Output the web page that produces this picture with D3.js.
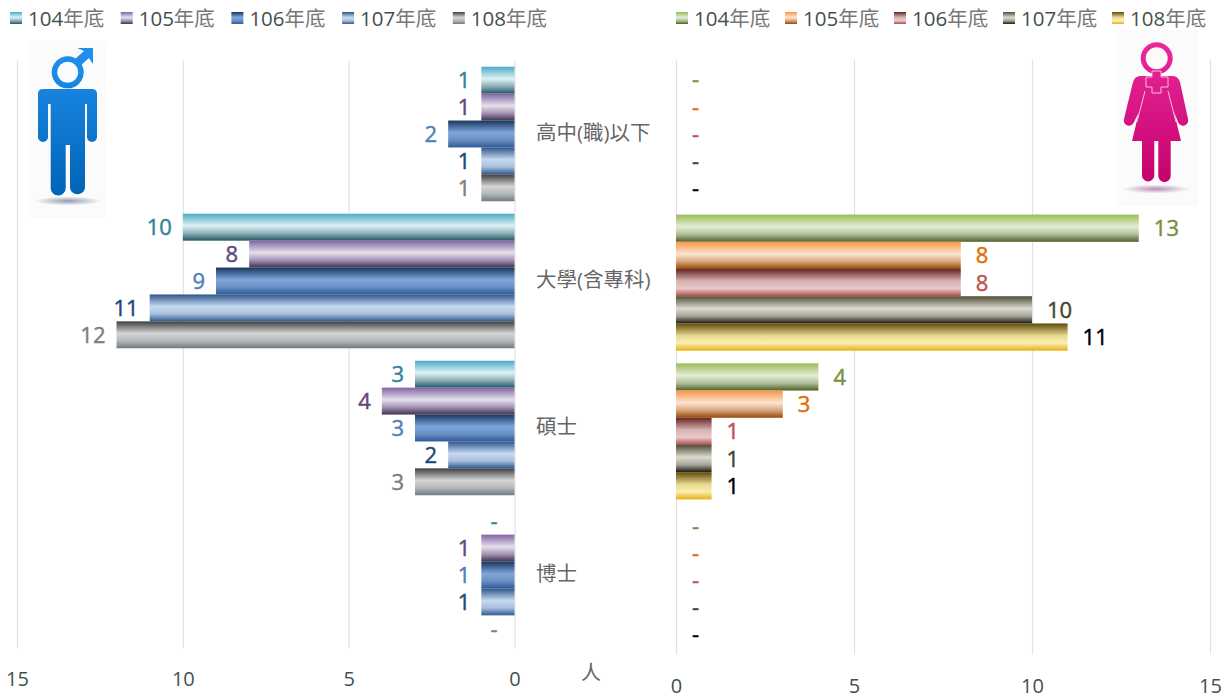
<!DOCTYPE html>
<html>
<head>
<meta charset="utf-8">
<script src="https://cdn.jsdelivr.net/npm/d3@7"></script>
<style>
    html, body { margin: 0; padding: 0; background: #fff; overflow: hidden; }
    text { font-family: "Open Sans", "Noto Sans CJK TC", sans-serif; }
    .cjk { font-family: "Open Sans", "Noto Sans CJK TC", sans-serif; fill: #666; }
</style>
</head>
<body>
<div id="chart"></div>
<script>
// data
const categories = ['高中(職)以下', '大學(含專科)', '碩士', '博士'];
const years = ['104年底', '105年底', '106年底', '107年底', '108年底'];

// one array per year, in category order (0 is drawn as "-")
const male104 = [1, 10, 3, 0];
const male105 = [1, 8, 4, 1];
const male106 = [2, 9, 3, 1];
const male107 = [1, 11, 2, 1];
const male108 = [1, 12, 3, 0];

const female104 = [0, 13, 4, 0];
const female105 = [0, 8, 3, 0];
const female106 = [0, 8, 1, 0];
const female107 = [0, 10, 1, 0];
const female108 = [0, 11, 1, 0];

const axisTicks = [0, 5, 10, 15];

// colours
const maleLabels = ['#31859c', '#604a7b', '#4f81bd', '#1f497d', '#7f7f7f'];
const femaleLabels = ['#77933c', '#e36c09', '#c0504d', '#4a452a', '#000000'];

const maleStops = [
    ['#4bacc6', '#dff1f5', '#8fb0b7', '#215968'],
    ['#8064a2', '#e6e0ec', '#a795b5', '#3f3151'],
    ['#17365d', '#7ea6dc', '#6b90c4', '#2d5a96'],
    ['#2f5588', '#c6d9f1', '#a9bfdc', '#2c5a92'],
    ['#3f3f3f', '#d4d4d4', '#b4b8ba', '#6f7b82']
];
const femaleStops = [
    ['#9bbb59', '#e4edd6', '#b2c09a', '#4f6228'],
    ['#f79646', '#fde4d0', '#d9a77e', '#974806'],
    ['#632523', '#d8b4b4', '#e8c8c8', '#ab4b48'],
    ['#4f4e38', '#dddbd0', '#a8a79c', '#1d1b10'],
    ['#5f4b0c', '#e8d890', '#fbeeb0', '#e6b012']
];
const stopOffsets = [0, 0.45, 0.72, 1];

const svg = d3.select('#chart').append('svg')
    .attr('width', 1227)
    .attr('height', 695);

const defs = svg.append('defs');

function addGradient(id, colors) {
    let grad = defs.append('linearGradient')
        .attr('id', id)
        .attr('x1', 0).attr('y1', 0)
        .attr('x2', 0).attr('y2', 1);
    colors.forEach((c, i) => {
        grad.append('stop').attr('offset', stopOffsets[i]).attr('stop-color', c);
    });
}

// draws one half of the butterfly chart
function drawPanel(cfg) {
    let g = svg.append('g').attr('class', 'panel-' + cfg.name);

    cfg.stops.forEach((s, i) => addGradient(cfg.name + i, s));

    let x = d3.scaleLinear().domain([0, 15]).range(cfg.xRange);
    let y0 = d3.scaleBand().domain(categories).range(cfg.yRange);
    let y1 = d3.scaleBand().domain(years)
        .range([y0.bandwidth() * 0.0425, y0.bandwidth() * 0.9575]);

    // gridlines and tick labels
    let axis = d3.axisBottom(x)
        .tickValues(axisTicks)
        .tickFormat(d3.format('d'))
        .tickSize(-(cfg.yRange[1] - cfg.yRange[0]));

    let axisG = g.append('g')
        .attr('transform', `translate(0,${cfg.yRange[1]})`)
        .call(axis);
    axisG.select('.domain').remove();
    axisG.selectAll('line').attr('stroke', '#e2e2e2').attr('stroke-width', 1.2);
    axisG.selectAll('text')
        .attr('y', cfg.tickY - cfg.yRange[1])
        .attr('dy', '0.36em')
        .attr('fill', '#44504f')
        .style('font-size', '20px')
        .style('font-family', '"Open Sans", sans-serif');

    // bars
    cfg.series.forEach((values, s) => {
        let rows = categories.map((c, i) => ({cat: c, value: values[i]}));
        let sg = g.append('g').attr('class', 'series');

        sg.selectAll('rect')
            .data(rows.filter(d => d.value > 0))
            .enter()
            .append('rect')
            .attr('x', d => Math.min(x(0), x(d.value)))
            .attr('y', d => y0(d.cat) + y1(years[s]))
            .attr('width', d => Math.abs(x(d.value) - x(0)))
            .attr('height', y1.bandwidth())
            .attr('fill', `url(#${cfg.name}${s})`);

        sg.selectAll('text')
            .data(rows)
            .enter()
            .append('text')
            .attr('x', d => x(d.value) + cfg.dir * (d.value > 0 ? cfg.labelGap : cfg.dashGap))
            .attr('y', d => y0(d.cat) + y1(years[s]) + y1.bandwidth() / 2)
            .attr('dy', '0.36em')
            .attr('text-anchor', cfg.dir > 0 ? 'start' : 'end')
            .attr('fill', cfg.labels[s])
            .attr('stroke', cfg.labels[s])
            .attr('stroke-width', 0.45)
            .style('font-size', '22px')
            .style('font-family', '"Open Sans", sans-serif')
            .text(d => d.value > 0 ? d.value : '-');
    });

    // legend
    let legend = g.append('g').selectAll('g')
        .data(years)
        .enter()
        .append('g')
        .attr('transform', (d, i) => `translate(${cfg.legendX + i * cfg.legendStep},12)`);

    legend.append('rect')
        .attr('width', 12).attr('height', 12)
        .attr('fill', (d, i) => `url(#${cfg.name}${i})`);

    let legendText = legend.append('text')
        .attr('x', 18)
        .attr('y', 7)
        .attr('dy', '0.36em')
        .style('font-size', '20.5px');
    legendText.append('tspan')
        .attr('fill', '#44504f')
        .text(d => d.slice(0, 3));
    legendText.append('tspan')
        .attr('fill', '#777')
        .text(d => d.slice(3));
}

drawPanel({
    name: 'male',
    series: [male104, male105, male106, male107, male108],
    stops: maleStops,
    labels: maleLabels,
    xRange: [514.5, 17],
    yRange: [60.5, 648.5],
    tickY: 679,
    dir: -1,
    labelGap: 11,
    dashGap: 17,
    legendX: 10,
    legendStep: 110.7
});

drawPanel({
    name: 'female',
    series: [female104, female105, female106, female107, female108],
    stops: femaleStops,
    labels: femaleLabels,
    xRange: [676, 1210],
    yRange: [59.5, 654.5],
    tickY: 686,
    dir: 1,
    labelGap: 15,
    dashGap: 16,
    legendX: 676,
    legendStep: 109
});

// category labels sit between the two panels, left aligned
let catY = d3.scaleBand().domain(categories).range([59, 647]);
svg.append('g').selectAll('text')
    .data(categories)
    .enter()
    .append('text')
    .attr('class', 'cjk')
    .attr('x', 536)
    .attr('y', d => catY(d) + catY.bandwidth() / 2)
    .attr('dy', '0.36em')
    .style('font-size', '20.5px')
    .text(d => d);

svg.append('text')
    .attr('class', 'cjk')
    .attr('x', 591)
    .attr('y', 673)
    .attr('dy', '0.36em')
    .attr('text-anchor', 'middle')
    .style('font-size', '20px')
    .text('人');

// figure icons
function iconBase(name, bx, by, bw, bh, cx, top, bottom) {
    let grad = defs.append('linearGradient')
        .attr('id', name + 'Icon')
        .attr('gradientUnits', 'userSpaceOnUse')
        .attr('x1', 0).attr('y1', by)
        .attr('x2', 0).attr('y2', by + bh - 20);
    grad.append('stop').attr('offset', 0).attr('stop-color', top);
    grad.append('stop').attr('offset', 1).attr('stop-color', bottom);

    let shadow = defs.append('radialGradient').attr('id', name + 'Shadow');
    shadow.append('stop').attr('offset', 0).attr('stop-color', name === 'male' ? '#8f9db0' : '#b98fb8');
    shadow.append('stop').attr('offset', 1).attr('stop-color', '#fbfbfb');

    let g = svg.append('g');
    g.append('rect')
        .attr('x', bx).attr('y', by)
        .attr('width', bw).attr('height', bh)
        .attr('fill', '#fbfbfb');
    g.append('ellipse')
        .attr('cx', cx).attr('cy', by + bh - 17)
        .attr('rx', 34).attr('ry', 4.5)
        .attr('fill', `url(#${name}Shadow)`);
    return g;
}

let maleIcon = iconBase('male', 28, 41, 79, 177, 68, '#2293f2', '#0062b4');
maleIcon.append('circle')
    .attr('cx', 67.7).attr('cy', 72.3).attr('r', 13.3)
    .attr('fill', 'none').attr('stroke', 'url(#maleIcon)').attr('stroke-width', 5.5);
maleIcon.append('path')
    .attr('fill', 'url(#maleIcon)')
    .attr('d', 'M75,59 L84,51 L77,48 L93,48 L93,64 L89,58 L80,66 Z');
maleIcon.append('path')
    .attr('fill', 'url(#maleIcon)')
    .attr('d', `M43,89 H92 Q97,89 97,94 V137 A5,5 0 0 1 87,137 V104 H85 V188
        A7.6,7.6 0 0 1 70,188 V145 H65.7 V188 A7.5,7.5 0 0 1 50.7,188 V104 H48 V137 A5,5 0 0 1 38,137 V94 Q38,89 43,89 Z`);

let femaleIcon = iconBase('female', 1116, 30, 82, 176, 1156, '#ee2c9f', '#c4006c');
femaleIcon.append('circle')
    .attr('cx', 1156.7).attr('cy', 58.3).attr('r', 13.5)
    .attr('fill', 'none').attr('stroke', 'url(#femaleIcon)').attr('stroke-width', 5);
femaleIcon.append('path')
    .attr('fill', 'url(#femaleIcon)')
    .attr('d', `M1140,76 H1173 Q1178,76 1180,82 L1188,119 A5,5 0 0 1 1178,122 L1174,112 L1181,141 H1170.7 V176
        A6.2,6.2 0 0 1 1158.3,176 V141 H1154.3 V176 A6.2,6.2 0 0 1 1142,176 V141 H1132 L1139,112 L1134,122 A5,5 0 0 1 1124,119 L1133,82 Q1135,76 1140,76 Z`);
femaleIcon.append('path')
    .attr('fill', 'none')
    .attr('stroke', '#f6bfdc')
    .attr('stroke-width', 1)
    .attr('d', 'M1168,91 L1176,122 M1145,91 L1137,122');
femaleIcon.append('path')
    .attr('fill', 'url(#femaleIcon)')
    .attr('stroke', '#f6bfdc')
    .attr('stroke-width', 1)
    .attr('d', 'M1152,71 H1161 V77 H1168 V87 H1161 V93 H1152 V87 H1146 V77 H1152 Z');
</script>
</body>
</html>
